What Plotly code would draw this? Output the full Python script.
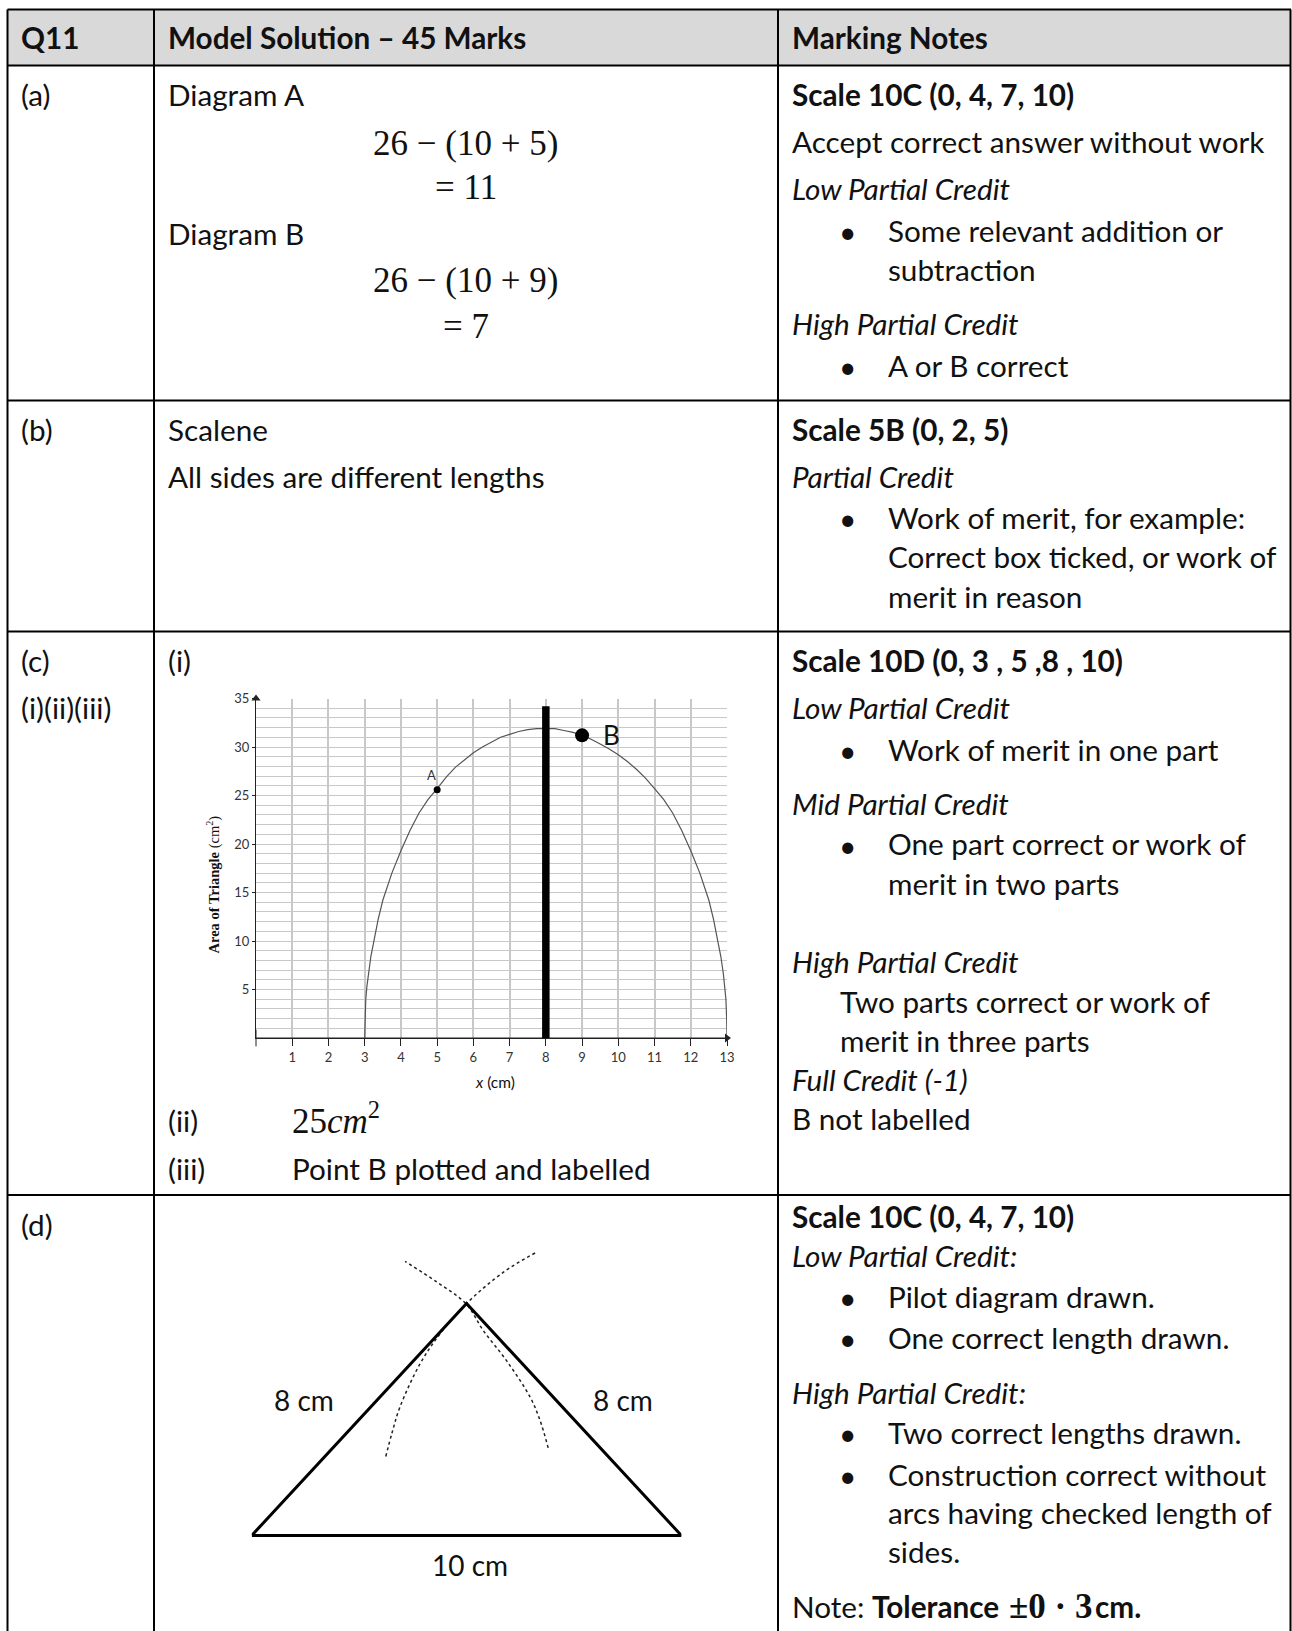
import plotly.graph_objects as go

W = 1292
H = 1631
SCALE = W / 1242  # positions below

# graph (c)(i)
curve_x = [3, 3.01, 3.03, 3.06, 3.1, 3.17, 3.25, 3.37, 3.5, 3.75, 4, 4.25, 4.5, 4.75, 5, 5.25, 5.5, 5.75, 6, 6.25, 6.5, 6.75, 7, 7.25, 7.5, 7.75, 8,
           8.25, 8.5, 8.75, 9, 9.25, 9.5, 9.75, 10, 10.25, 10.5, 10.75, 11, 11.25, 11.5, 11.75, 12, 12.25, 12.5, 12.63, 12.75, 12.83, 12.9, 12.94, 12.97, 12.99, 13]
curve_y = [0, 2, 4, 5.3, 6.6, 8.4, 9.9, 12.2, 14.2, 17, 19.3, 21.4, 23.2, 24.6, 25.7, 26.9, 27.9, 28.7, 29.4, 30, 30.5, 31, 31.3, 31.6, 31.8, 31.9, 31.9,
           31.9, 31.7, 31.5, 31.2, 30.8, 30.3, 29.8, 29.2, 28.5, 27.7, 26.8, 25.7, 24.6, 23.2, 21.4, 19.3, 17, 14.2, 12.2, 9.9, 8.4, 6.6, 5.3, 4, 2, 0]
axis_x = [1, 2, 3, 4, 5, 6, 7, 8, 9, 10, 11, 12, 13]
axis_y = [5, 10, 15, 20, 25, 30, 35]
point_labels = ["A", "B"]
point_x = [5, 9]
point_y = [25.6, 31.2]
bar_x = [8, 8]
bar_y = [0, 34.2]

# construction (d)
tri_x = [0, 10, 5, 0]
tri_y = [0, 0, 5.4, 0]
arc1_x = [3.12, 3.26, 3.45, 3.92, 4.38, 4.99, 5.86, 6.62]
arc1_y = [1.84, 2.37, 2.99, 4.0, 4.69, 5.39, 6.13, 6.59]
arc2_x = [6.90, 6.71, 6.48, 5.93, 5.39, 4.99, 4.31, 3.57]
arc2_y = [2.04, 2.68, 3.22, 4.07, 4.77, 5.39, 5.90, 6.38]
side_labels = ["8 cm", "8 cm", "10 cm"]

# table text
part_labels = ["<b>Q11</b>", "(a)", "(b)", "(c)", "(i)(ii)(iii)", "(d)"]
solution_lines = [
    "<b>Model Solution – 45 Marks</b>",
    "Diagram A",
    "Diagram B",
    "Scalene",
    "All sides are different lengths",
    "(i)",
    "(ii)",
    "(iii)",
]
answer_lines = ["Point B plotted and labelled"]
math_lines = ["26 − (10 + 5)", "= 11", "26 − (10 + 9)", "= 7"]
math_answer = ["25<i>cm</i><sup>2</sup>"]
notes_lines = [
    "<b>Marking Notes</b>",
    "<b>Scale 10C (0, 4, 7, 10)</b>",
    "Accept correct answer without work",
    "<i>Low Partial Credit</i>",
    "<i>High Partial Credit</i>",
    "<b>Scale 5B (0, 2, 5)</b>",
    "<i>Partial Credit</i>",
    "<b>Scale 10D (0, 3 , 5 ,8 , 10)</b>",
    "<i>Low Partial Credit</i>",
    "<i>Mid Partial Credit</i>",
    "<i>High Partial Credit</i>",
    "<i>Full Credit (-1)</i>",
    "B not labelled",
    "<b>Scale 10C (0, 4, 7, 10)</b>",
    "<i>Low Partial Credit:</i>",
    "<i>High Partial Credit:</i>",
    "Note: <b>Tolerance</b>",
]
tolerance_value = "<b>±0 · 3</b>"
tolerance_unit = "<b>cm.</b>"
bullet_lines = [
    "Some relevant addition or",
    "subtraction",
    "A or B correct",
    "Work of merit, for example:",
    "Correct box ticked, or work of",
    "merit in reason",
    "Work of merit in one part",
    "One part correct or work of",
    "merit in two parts",
    "Pilot diagram drawn.",
    "One correct length drawn.",
    "Two correct lengths drawn.",
    "Construction correct without",
    "arcs having checked length of",
    "sides.",
]
indent_lines = ["Two parts correct or work of", "merit in three parts"]

# where the text goes (in reference pixels of the shrunk picture)
part_pos = [37, 92, 414, 636, 681, 1178]
solution_pos = [37, 92, 225, 414, 459, 636, 1078, 1124]
math_pos = [137, 180, 269, 313]
notes_pos = [37, 92, 137, 182, 312, 414, 459, 636, 681, 773, 925, 1038, 1076, 1170, 1208, 1339, 1545]
bullet_pos = [222, 260, 352, 498, 536, 574, 721, 812, 850, 1247, 1286, 1378, 1418, 1455, 1492]
dot_pos = [222, 352, 498, 721, 812, 1247, 1286, 1378, 1418]
indent_pos = [963, 1001]

TEXT = "Lato"
MATH = "Liberation Serif"
SIZE = 29.7
INK = "#111111"
GRID = "#c8c8c8"


def add_text(fig, text, x, y, font=TEXT, size=SIZE, anchor="left", angle=0):
    # annotation boxes carry a little padding, take it back for left aligned lines
    if anchor == "left":
        x -= 2.5
        y -= 0.7
    fig.add_annotation(
        xref="paper",
        yref="paper",
        x=x * SCALE / W,
        y=1 - y * SCALE / H,
        text=text,
        showarrow=False,
        xanchor=anchor,
        yanchor="middle",
        textangle=angle,
        font=dict(family=font, size=size, color=INK),
    )


fig = go.Figure()

# graph traces
fig.add_trace(go.Scatter(x=[-0.5, 13], y=[0, 0], mode="lines", line=dict(color="#222", width=1.2), cliponaxis=False, xaxis="x", yaxis="y"))
fig.add_trace(go.Scatter(x=curve_x, y=curve_y, mode="lines", line=dict(color="#555", width=1.2), cliponaxis=False, xaxis="x", yaxis="y"))
fig.add_trace(go.Scatter(x=bar_x, y=bar_y, mode="lines", line=dict(color="black", width=7.5), cliponaxis=False, xaxis="x", yaxis="y"))
fig.add_trace(go.Scatter(x=[0], y=[35], mode="markers", marker=dict(symbol="triangle-up", size=8, color="#222"), cliponaxis=False, xaxis="x", yaxis="y"))
fig.add_trace(go.Scatter(x=[13], y=[0], mode="markers", marker=dict(symbol="triangle-right", size=8, color="#222"), cliponaxis=False, xaxis="x", yaxis="y"))
fig.add_trace(go.Scatter(x=[0], y=[0], mode="markers", marker=dict(symbol="line-ns", size=12, line=dict(color="#222", width=1)), cliponaxis=False, xaxis="x", yaxis="y"))
fig.add_trace(go.Scatter(x=point_x[:1], y=point_y[:1], mode="markers", marker=dict(size=7, color="black"), xaxis="x", yaxis="y"))
fig.add_trace(go.Scatter(x=point_x[1:], y=point_y[1:], mode="markers", marker=dict(size=14, color="black"), xaxis="x", yaxis="y"))

# construction traces
fig.add_trace(go.Scatter(x=arc1_x, y=arc1_y, mode="lines", line=dict(color="#222", width=1.5, dash="dot", shape="spline"), xaxis="x2", yaxis="y2"))
fig.add_trace(go.Scatter(x=arc2_x, y=arc2_y, mode="lines", line=dict(color="#222", width=1.5, dash="dot", shape="spline"), xaxis="x2", yaxis="y2"))
fig.add_trace(go.Scatter(x=tri_x, y=tri_y, mode="lines", line=dict(color="black", width=3), cliponaxis=False, xaxis="x2", yaxis="y2"))

# table rules
rules = [
    (7.5, 9.5, 1291, 9.5),
    (7.5, 65.5, 1291, 65.5),
    (7.5, 400.5, 1291, 400.5),
    (7.5, 631.5, 1291, 631.5),
    (7.5, 1195, 1291, 1195),
    (7.5, 9.5, 7.5, H),
    (154, 9.5, 154, H),
    (778, 9.5, 778, H),
    (1290.5, 9.5, 1290.5, H),
]
fig.add_shape(type="rect", xref="paper", yref="paper", x0=7.5 / W, x1=1290.5 / W, y0=1 - 65.5 / H, y1=1 - 9.5 / H, fillcolor="#d9d9d9", line_width=0, layer="below")
for x0, y0, x1, y1 in rules:
    fig.add_shape(type="line", xref="paper", yref="paper", x0=x0 / W, x1=x1 / W, y0=1 - y0 / H, y1=1 - y1 / H, line=dict(color="black", width=2))

# table text
for text, y in zip(part_labels, part_pos):
    add_text(fig, text, 21, y)
for text, y in zip(solution_lines, solution_pos):
    add_text(fig, text, 162, y)
for text, y in zip(answer_lines, [1124]):
    add_text(fig, text, 281, y)
for text, y in zip(math_lines, math_pos):
    add_text(fig, text, 447.5, y + 0.7, font=MATH, size=35, anchor="center")
add_text(fig, math_answer[0], 281, 1076, font=MATH, size=35)
for text, y in zip(notes_lines, notes_pos):
    add_text(fig, text, 762, y)
add_text(fig, tolerance_value, 971, 1545, font=MATH, size=35)
add_text(fig, tolerance_unit, 1053, 1545)
for text, y in zip(bullet_lines, bullet_pos):
    add_text(fig, text, 854, y)
for text, y in zip(indent_lines, indent_pos):
    add_text(fig, text, 808, y)
for y in dot_pos:
    add_text(fig, "•", 815, y, anchor="center", size=30)
add_text(fig, "<b>Area of Triangle</b> (cm<sup>2</sup>)", 205, 850, font=MATH, size=14.5, anchor="center", angle=-90)
add_text(fig, "<i>x</i> (cm)", 476, 1040, font=TEXT, size=15.5, anchor="center")

# labels on the graph and the construction
fig.add_annotation(x=4.85, y=27.1, xref="x", yref="y", text=point_labels[0], showarrow=False, font=dict(family=TEXT, size=13, color="#333"))
fig.add_annotation(x=9.8, y=31.2, xref="x", yref="y", text=point_labels[1], showarrow=False, font=dict(family=TEXT, size=26, color=INK))
fig.add_annotation(x=1.22, y=3.15, xref="x2", yref="y2", text=side_labels[0], showarrow=False, font=dict(family=TEXT, size=28, color=INK))
fig.add_annotation(x=8.65, y=3.15, xref="x2", yref="y2", text=side_labels[1], showarrow=False, font=dict(family=TEXT, size=28, color=INK))
fig.add_annotation(x=5.07, y=-0.68, xref="x2", yref="y2", text=side_labels[2], showarrow=False, font=dict(family=TEXT, size=28, color=INK))

fig.update_layout(
    width=W,
    height=H,
    margin=dict(l=0, r=0, t=0, b=0, autoexpand=False),
    paper_bgcolor="white",
    plot_bgcolor="white",
    showlegend=False,
    xaxis=dict(
        domain=[256 / W, 727 / W],
        range=[0, 13],
        tickmode="array",
        tickvals=axis_x,
        ticks="outside",
        ticklen=7,
        tickcolor="#222",
        tickfont=dict(family=TEXT, size=13, color="#333"),
        showgrid=True,
        gridcolor=GRID,
        gridwidth=1.5,
        showline=True,
        linecolor="#222",
        zeroline=False,
    ),
    yaxis=dict(
        domain=[1 - 1038 / H, 1 - 698.5 / H],
        range=[0, 35],
        tickmode="array",
        tickvals=axis_y,
        ticks="outside",
        ticklen=3,
        tickcolor="#222",
        tickfont=dict(family=TEXT, size=13, color="#333"),
        showgrid=True,
        gridcolor=GRID,
        gridwidth=1,
        minor=dict(dtick=1, showgrid=True, gridcolor=GRID, gridwidth=1, ticks=""),
        showline=True,
        linecolor="#222",
        zeroline=False,
    ),
    xaxis2=dict(domain=[251.7 / W, 681.4 / W], range=[0, 10], visible=False, anchor="y2"),
    yaxis2=dict(domain=[1 - (1535.5 + 42.96) / H, 1 - (1535.5 - 7 * 42.96) / H], range=[-1, 7], visible=False, anchor="x2"),
)

fig.write_html("out.html", post_script="document.body.style.margin='0';", config={"displayModeBar": False})
